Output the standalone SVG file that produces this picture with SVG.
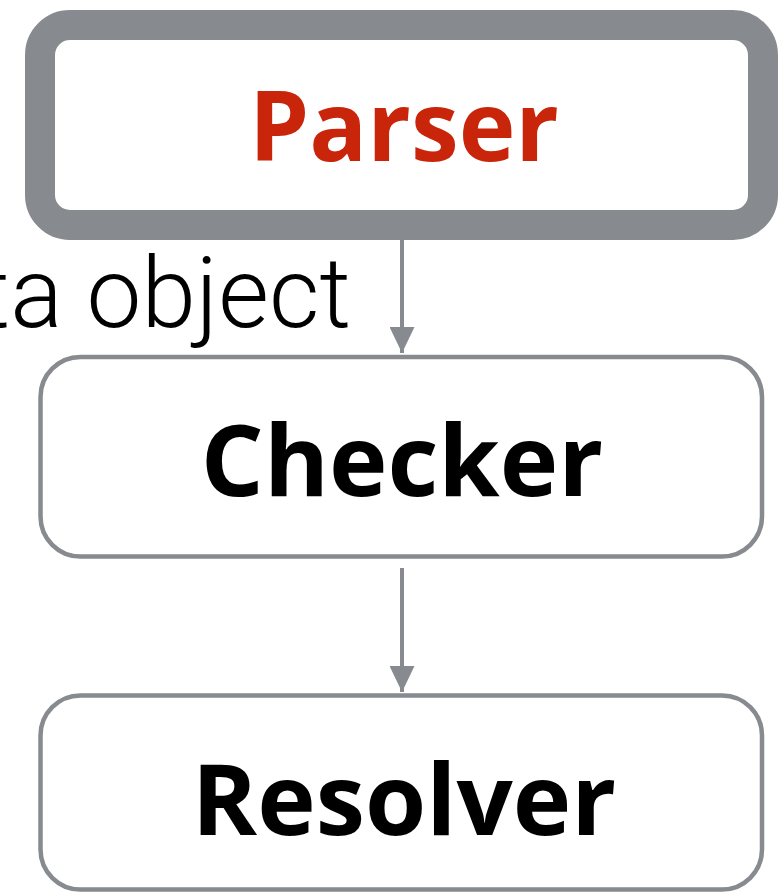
<svg xmlns="http://www.w3.org/2000/svg" width="782" height="892" viewBox="0 0 782 892">
  <defs>
    <style>
      .box { fill: #ffffff; stroke: #878a8e; }
      .label { font-family: "Open Sans", "Noto Sans", "Liberation Sans", sans-serif; font-weight: 700; font-size: 96px; text-anchor: middle; }
      .big { font-size: 99px; }
      .edge { stroke: #878a8e; stroke-width: 4; fill: none; }
      .note { font-family: Roboto, Inter, "Liberation Sans", sans-serif; font-weight: 300; font-size: 98px; fill: #000000; text-anchor: end; }
    </style>
    <marker id="arrow" viewBox="0 0 26 25" refX="26" refY="12.5" markerWidth="26" markerHeight="25" markerUnits="userSpaceOnUse" orient="auto">
      <path d="M0,0 L26,12.5 L0,25 Z" fill="#878a8e"/>
    </marker>
  </defs>
  <rect width="782" height="892" fill="#ffffff"/>

  <g id="connectors">
    <line class="edge" x1="402" y1="238" x2="402" y2="353" marker-end="url(#arrow)"/>
    <line class="edge" x1="402" y1="568" x2="402" y2="692" marker-end="url(#arrow)"/>
    <text class="note" x="351" y="327">ta object</text>
  </g>

  <g id="parser">
    <rect class="box" x="40" y="25" width="723" height="200" rx="30" ry="30" stroke-width="30"/>
    <text class="label" x="404" y="161" fill="#c8250a">Parser</text>
  </g>

  <g id="checker">
    <rect class="box" x="40.5" y="357" width="721.5" height="199.5" rx="40" ry="40" stroke-width="4.5"/>
    <text class="label big" x="402" y="496" fill="#000000">Checker</text>
  </g>

  <g id="resolver">
    <rect class="box" x="40.5" y="695.5" width="721.5" height="194" rx="40" ry="40" stroke-width="4.5"/>
    <text class="label big" x="404" y="835" fill="#000000">Resolver</text>
  </g>
</svg>
